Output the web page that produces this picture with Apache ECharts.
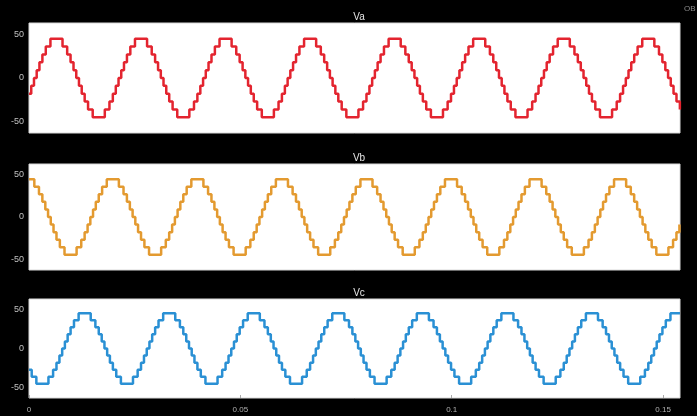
<!DOCTYPE html>
<html>
<head>
<meta charset="utf-8">
<script src="https://cdn.jsdelivr.net/npm/echarts@6/dist/echarts.min.js"></script>
<style>
html,body{margin:0;padding:0;background:#000;}
#chart{width:697px;height:416px;}
</style>
</head>
<body>
<div id="chart"></div>
<script>
// ---- data ----
const panelTitles = ['Va', 'Vb', 'Vc'];
const seriesColors = ['#e3242f', '#e39a30', '#2a90d4'];
// staircase levels of one quarter wave (V)
const stepLevels = [0, 9, 18, 27, 36, 45];
// switching instants after the rising zero crossing (ms) for one quarter wave
const switchMs = [0.32, 0.97, 1.67, 2.47, 3.57];
const periodMs = 20;
// rising zero crossing of each phase (ms)
const zeroCrossMs = [1.5, 14.83, 8.17];
const xTickLabels = [0, 0.05, 0.1, 0.15];
const yTickValues = [-50, 0, 50];
const xMax = 0.154;

function buildWave(zc) {
  const ev = [];
  const half = periodMs / 2;
  for (let n = -2; n <= 9; n++) {
    const base = zc + n * periodMs;
    for (let k = 0; k < switchMs.length; k++) {
      ev.push([base + switchMs[k], stepLevels[k], stepLevels[k + 1]]);
      ev.push([base + half - switchMs[k], stepLevels[k + 1], stepLevels[k]]);
      ev.push([base + half + switchMs[k], -stepLevels[k], -stepLevels[k + 1]]);
      ev.push([base + periodMs - switchMs[k], -stepLevels[k + 1], -stepLevels[k]]);
    }
  }
  ev.sort((a, b) => a[0] - b[0]);
  const inRange = ev.filter(e => e[0] >= 0 && e[0] <= xMax * 1000);
  const pts = [[0, inRange[0][1]]];
  inRange.forEach(e => {
    pts.push([e[0] / 1000, e[1]]);
    pts.push([e[0] / 1000, e[2]]);
  });
  pts.push([xMax, inRange[inRange.length - 1][2]]);
  return pts;
}

const grids = [
  {left: 29, top: 23, width: 651, height: 110},
  {left: 29, top: 164, width: 651, height: 106},
  {left: 29, top: 299, width: 651, height: 99}
];

const option = {
  backgroundColor: '#000',
  animation: false,
  title: panelTitles.map((t, i) => ({
    text: t,
    left: 354,
    top: grids[i].top - 16,
    textAlign: 'center',
    textStyle: {color: '#e6e6e6', fontSize: 10, fontWeight: 'normal', fontFamily: 'Liberation Sans'}
  })),
  graphic: [{
    type: 'text', left: 684, top: 5,
    style: {text: 'OB', fill: '#8a8a8a', fontSize: 8, fontFamily: 'Liberation Sans'}
  }],
  grid: grids.map(g => Object.assign({show: true, backgroundColor: '#fff', borderColor: '#d8d8d8', borderWidth: 1}, g)),
  xAxis: grids.map((g, i) => ({
    type: 'value', gridIndex: i, min: 0, max: xMax, interval: 0.05,
    axisLine: {show: false, onZero: false},
    axisTick: {show: i === 2, inside: true, length: 3, lineStyle: {color: '#aaa'}},
    splitLine: {show: false},
    axisLabel: {
      show: i === 2, showMaxLabel: false, color: '#b0b0b0', fontSize: 8, margin: 8, fontFamily: 'Liberation Sans',
      formatter: v => (xTickLabels.indexOf(Math.round(v * 100) / 100) >= 0 ? String(Math.round(v * 100) / 100) : '')
    }
  })),
  yAxis: grids.map((g, i) => ({
    type: 'value', gridIndex: i, min: -63, max: 63,
    axisLine: {show: false},
    axisTick: {show: false},
    splitLine: {show: false},
    axisLabel: {color: '#c0c0c0', fontSize: 9, margin: 5, fontFamily: 'Liberation Sans', customValues: yTickValues}
  })),
  series: zeroCrossMs.map((zc, i) => ({
    type: 'line', xAxisIndex: i, yAxisIndex: i,
    data: buildWave(zc), showSymbol: false,
    lineStyle: {color: seriesColors[i], width: 2.5},
    itemStyle: {color: seriesColors[i]}
  }))
};

echarts.init(document.getElementById('chart')).setOption(option);
</script>
</body>
</html>
